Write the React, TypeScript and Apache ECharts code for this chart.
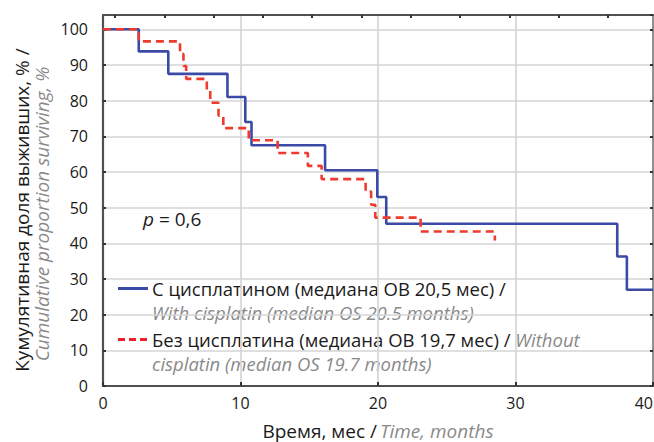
import React, { useEffect, useRef } from "react";
import * as echarts from "echarts";

// Kaplan–Meier step data (time in months, cumulative proportion surviving, %)
const blueTimes = [0, 2.6, 4.75, 9.05, 10.35, 10.8, 16.15, 19.95, 20.6, 37.4, 38.1, 40];
const blueValues = [100, 93.8, 87.5, 81.0, 74.0, 67.5, 60.5, 53.0, 45.5, 36.3, 27.0, 27.0];

const redTimes = [0, 2.6, 5.6, 5.85, 6.05, 7.55, 7.8, 8.4, 8.75, 10.6, 12.7, 14.9, 15.9, 19.1, 19.5, 19.8, 23.1, 28.5, 28.5];
const redValues = [100, 96.6, 93.1, 89.7, 86.1, 82.7, 79.4, 75.8, 72.3, 68.9, 65.3, 61.7, 58.0, 54.5, 50.8, 47.2, 43.3, 43.3, 40.8];

const topTicks = [0.87, 4.46, 8.04, 11.63, 15.21, 18.8, 22.38, 25.97, 29.55, 33.14, 36.72];

const xMin = 0;
const xMax = 40;
const xInterval = 10;
const yMin = 0;
const yMax = 104;
const yInterval = 10;

const seriesNames = ["С цисплатином", "Без цисплатина"];
const legendLines = {
  blueRu: "С цисплатином (медиана ОВ 20,5 мес) /",
  blueEn: "With cisplatin (median OS 20.5 months)",
  redRu: "Без цисплатина (медиана ОВ 19,7 мес) / ",
  redEn1: "Without",
  redEn2: "cisplatin (median OS 19.7 months)",
};
const yTitleRu = "Кумулятивная доля выживших, % /";
const yTitleEn = "Cumulative proportion surviving, %";
const xTitleRu = "Время, мес /";
const xTitleEn = "Time, months";
const pLabel = "0,6";

const FONT = "'Open Sans'";
const FS = 18.5;
const LH = 19;
const TITLE_FS = 19;
const TICK_FS = 16;
const BLUE = "#3b4aa6";
const RED = "#ee3b2e";
const BLACK = "#1a1a1a";
const GREY = "#8a8a8a";

export default function App() {
  const ref = useRef<HTMLDivElement>(null);
  useEffect(() => {
    const chart = echarts.init(ref.current!, null, { renderer: "svg" });
    const axisLineStyle = { color: "#505050", width: 2.2 };
    chart.setOption({
      animation: false,
      backgroundColor: "#ffffff",
      textStyle: { fontFamily: FONT },
      grid: { left: 103, right: 1, top: 15, bottom: 56, containLabel: false, outerBoundsMode: "none" },
      xAxis: [
        {
          type: "value",
          position: "bottom",
          min: xMin,
          max: xMax,
          interval: xInterval,
          axisLine: { show: true, onZero: false, lineStyle: axisLineStyle },
          axisTick: { show: true, inside: true, length: 4, lineStyle: { color: "#333", width: 2 } },
          axisLabel: { color: BLACK, fontSize: TICK_FS, fontFamily: FONT, margin: 9, alignMaxLabel: "right" },
          splitLine: { show: true, lineStyle: { color: "#d4d4d4", width: 1.6 } },
          name: `{a|${xTitleRu}} {b|${xTitleEn}}`,
          nameLocation: "middle",
          nameGap: 35,
          nameTextStyle: {
            rich: {
              a: { color: BLACK, fontSize: TITLE_FS, fontFamily: FONT },
              b: { color: GREY, fontSize: TITLE_FS, fontFamily: FONT, fontStyle: "italic" },
            },
          },
        },
        {
          type: "value",
          position: "top",
          min: xMin,
          max: xMax,
          axisLine: { show: true, onZero: false, lineStyle: axisLineStyle },
          axisTick: { show: true, inside: true, length: 3, customValues: topTicks, lineStyle: { color: "#333", width: 2 } },
          axisLabel: { show: false },
          splitLine: { show: false },
        },
      ],
      yAxis: [
        {
          type: "value",
          position: "left",
          min: yMin,
          max: yMax,
          interval: yInterval,
          axisLine: { show: true, onZero: false, lineStyle: axisLineStyle },
          axisTick: { show: true, inside: true, length: 3, lineStyle: { color: "#333", width: 2 } },
          axisLabel: { color: BLACK, fontSize: TICK_FS, fontFamily: FONT, margin: 15, showMaxLabel: false },
          splitLine: { show: true, lineStyle: { color: "#d4d4d4", width: 1.6 } },
        },
        {
          type: "value",
          position: "right",
          min: yMin,
          max: yMax,
          interval: yInterval,
          axisLine: { show: true, onZero: false, lineStyle: { color: "#777", width: 1.5 } },
          axisTick: { show: true, inside: true, length: 3, lineStyle: { color: "#333", width: 2 } },
          axisLabel: { show: false },
          splitLine: { show: false },
        },
      ],
      series: [
        {
          name: seriesNames[0],
          type: "line",
          step: "end",
          symbol: "none",
          xAxisIndex: 0,
          yAxisIndex: 0,
          data: blueTimes.map((t, i) => [t, blueValues[i]]),
          lineStyle: { color: BLUE, width: 2.6 },
          z: 3,
        },
        {
          name: seriesNames[1],
          type: "line",
          step: "end",
          symbol: "none",
          xAxisIndex: 0,
          yAxisIndex: 0,
          data: redTimes.map((t, i) => [t, redValues[i]]),
          lineStyle: { color: RED, width: 2.6, type: [8, 5] },
          z: 4,
        },
      ],
      graphic: [
        {
          type: "text",
          x: 22,
          y: 210,
          rotation: Math.PI / 2,
          style: { text: yTitleRu, fill: BLACK, font: `${TITLE_FS}px ${FONT}`, align: "center", verticalAlign: "middle", lineHeight: LH },
        },
        {
          type: "text",
          x: 42,
          y: 214,
          rotation: Math.PI / 2,
          style: { text: yTitleEn, fill: GREY, font: `italic ${TITLE_FS}px ${FONT}`, align: "center", verticalAlign: "middle", lineHeight: LH },
        },
        {
          type: "text",
          x: 143,
          y: 219,
          style: {
            text: `{i|p} = ${pLabel}`,
            fill: BLACK,
            font: `${TITLE_FS}px ${FONT}`,
            verticalAlign: "middle",
            rich: { i: { fontStyle: "italic", fontSize: TITLE_FS, fontFamily: FONT, fill: BLACK } },
          },
        },
        {
          type: "line",
          shape: { x1: 118, y1: 288.5, x2: 148, y2: 288.5 },
          style: { stroke: BLUE, lineWidth: 3 },
        },
        {
          type: "line",
          shape: { x1: 118, y1: 339.5, x2: 148, y2: 339.5 },
          style: { stroke: "#e8212d", lineWidth: 3, lineDash: [7, 4] },
        },
        {
          type: "text",
          x: 152,
          y: 288,
          style: { text: legendLines.blueRu, fill: BLACK, font: `${FS}px ${FONT}`, verticalAlign: "middle", lineHeight: LH },
        },
        {
          type: "text",
          x: 152,
          y: 312,
          style: { text: legendLines.blueEn, fill: GREY, font: `italic ${FS}px ${FONT}`, verticalAlign: "middle", lineHeight: LH },
        },
        {
          type: "text",
          x: 152,
          y: 339,
          style: {
            text: `{a|${legendLines.redRu}}{b|${legendLines.redEn1}}`,
            verticalAlign: "middle",
            font: `${FS}px ${FONT}`,
            lineHeight: LH,
            rich: {
              a: { fill: BLACK, fontSize: FS, fontFamily: FONT, lineHeight: LH },
              b: { fill: GREY, fontSize: FS, fontFamily: FONT, fontStyle: "italic", lineHeight: LH },
            },
          },
        },
        {
          type: "text",
          x: 152,
          y: 363,
          style: { text: legendLines.redEn2, fill: GREY, font: `italic ${FS}px ${FONT}`, verticalAlign: "middle", lineHeight: LH },
        },
      ],
    });
    return () => chart.dispose();
  }, []);
  return (
    <div
      ref={ref}
      style={{ position: "absolute", left: 0, top: 0, width: 654, height: 442, background: "#fff" }}
    />
  );
}
